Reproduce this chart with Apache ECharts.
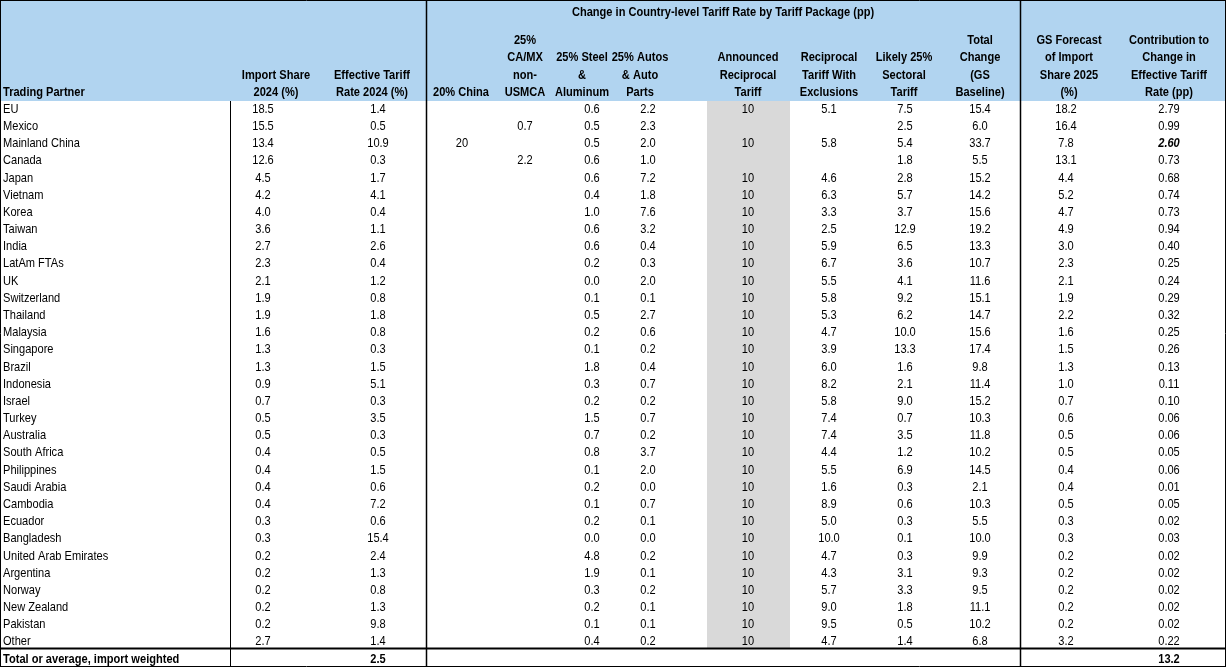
<!DOCTYPE html>
<html><head><meta charset="utf-8">
<script src="https://cdn.jsdelivr.net/npm/echarts@6/dist/echarts.min.js"></script>
<style>html,body{margin:0;padding:0;background:#fff}#c{width:1226px;height:667px}</style>
</head><body><div id="c"></div>
<script>
const partners = ["EU","Mexico","Mainland China","Canada","Japan","Vietnam","Korea","Taiwan","India","LatAm FTAs","UK","Switzerland","Thailand","Malaysia","Singapore","Brazil","Indonesia","Israel","Turkey","Australia","South Africa","Philippines","Saudi Arabia","Cambodia","Ecuador","Bangladesh","United Arab Emirates","Argentina","Norway","New Zealand","Pakistan","Other","Total or average, import weighted"];
const importShare = ["18.5","15.5","13.4","12.6","4.5","4.2","4.0","3.6","2.7","2.3","2.1","1.9","1.9","1.6","1.3","1.3","0.9","0.7","0.5","0.5","0.4","0.4","0.4","0.4","0.3","0.3","0.2","0.2","0.2","0.2","0.2","2.7",null];
const effTariff = ["1.4","0.5","10.9","0.3","1.7","4.1","0.4","1.1","2.6","0.4","1.2","0.8","1.8","0.8","0.3","1.5","5.1","0.3","3.5","0.3","0.5","1.5","0.6","7.2","0.6","15.4","2.4","1.3","0.8","1.3","9.8","1.4","2.5"];
const china20 = [null,null,"20"];
const camx = [null,"0.7",null,"2.2"];
const steel = ["0.6","0.5","0.5","0.6","0.6","0.4","1.0","0.6","0.6","0.2","0.0","0.1","0.5","0.2","0.1","1.8","0.3","0.2","1.5","0.7","0.8","0.1","0.2","0.1","0.2","0.0","4.8","1.9","0.3","0.2","0.1","0.4"];
const autos = ["2.2","2.3","2.0","1.0","7.2","1.8","7.6","3.2","0.4","0.3","2.0","0.1","2.7","0.6","0.2","0.4","0.7","0.2","0.7","0.2","3.7","2.0","0.0","0.7","0.1","0.0","0.2","0.1","0.2","0.1","0.1","0.2"];
const announced = ["10",null,"10",null,"10","10","10","10","10","10","10","10","10","10","10","10","10","10","10","10","10","10","10","10","10","10","10","10","10","10","10","10"];
const reciprocal = ["5.1",null,"5.8",null,"4.6","6.3","3.3","2.5","5.9","6.7","5.5","5.8","5.3","4.7","3.9","6.0","8.2","5.8","7.4","7.4","4.4","5.5","1.6","8.9","5.0","10.0","4.7","4.3","5.7","9.0","9.5","4.7"];
const sectoral = ["7.5","2.5","5.4","1.8","2.8","5.7","3.7","12.9","6.5","3.6","4.1","9.2","6.2","10.0","13.3","1.6","2.1","9.0","0.7","3.5","1.2","6.9","0.3","0.6","0.3","0.1","0.3","3.1","3.3","1.8","0.5","1.4"];
const totalChange = ["15.4","6.0","33.7","5.5","15.2","14.2","15.6","19.2","13.3","10.7","11.6","15.1","14.7","15.6","17.4","9.8","11.4","15.2","10.3","11.8","10.2","14.5","2.1","10.3","5.5","10.0","9.9","9.3","9.5","11.1","10.2","6.8"];
const gsForecast = ["18.2","16.4","7.8","13.1","4.4","5.2","4.7","4.9","3.0","2.3","2.1","1.9","2.2","1.6","1.5","1.3","1.0","0.7","0.6","0.5","0.5","0.4","0.4","0.5","0.3","0.3","0.2","0.2","0.2","0.2","0.2","3.2"];
const contribution = ["2.79","0.99","2.60","0.73","0.68","0.74","0.73","0.94","0.40","0.25","0.24","0.29","0.32","0.25","0.26","0.13","0.11","0.10","0.06","0.06","0.05","0.06","0.01","0.05","0.02","0.03","0.02","0.02","0.02","0.02","0.02","0.22","13.2"];
const headers = ["Trading Partner","Import Share\n2024 (%)","Effective Tariff\nRate 2024 (%)","20% China","25%\nCA/MX\nnon-\nUSMCA","25% Steel\n&\nAluminum","25% Autos\n& Auto\nParts","Announced\nReciprocal\nTariff","Reciprocal\nTariff With\nExclusions","Likely 25%\nSectoral\nTariff","Total\nChange\n(GS\nBaseline)","GS Forecast\nof Import\nShare 2025\n(%)","Contribution to\nChange in\nEffective Tariff\nRate (pp)"];
const groupTitle = "Change in Country-level Tariff Rate by Tariff Package (pp)";

const columns = [partners,importShare,effTariff,china20,camx,steel,autos,announced,reciprocal,sectoral,totalChange,gsForecast,contribution];
const valCenters = [3,263,378,462,525,592,648,748,829,905,980,1066,1169];
const headCenters = [3,276,372,461,525,582,640,748,829,904,980,1069,1169];
const F = '"Liberation Sans",Arial,sans-serif';
const SX = 0.82;
const nRows = partners.length, totalRow = nRows-1;

const data = [];
columns.forEach((col,j)=>col.forEach((t,i)=>{ if(t!=null) data.push({value:[valCenters[j],i],txt:t,col:j}); }));

const chart = echarts.init(document.getElementById('c'));
const g = [];
g.push({type:'rect',shape:{x:0,y:0,width:1226,height:101},style:{fill:'#B1D4F0'},z:0});
g.push({type:'rect',shape:{x:707,y:101,width:83,height:547},style:{fill:'#D9D9D9'},z:0});
headers.forEach((h,j)=>g.push({type:'text',x:headCenters[j],y:101,scaleX:SX,z:5,style:{text:h,font:'bold 13.5px '+F,fill:'#000',align:j===0?'left':'center',verticalAlign:'bottom',lineHeight:17.3}}));
g.push({type:'text',x:723,y:12,scaleX:SX,z:5,style:{text:groupTitle,font:'bold 13.5px '+F,fill:'#000',align:'center',verticalAlign:'middle'}});
const L=(x1,y1,x2,y2,w)=>g.push({type:'line',shape:{x1,y1,x2,y2},style:{stroke:'#000',lineWidth:w},z:10});
L(426.5,0,426.5,667,1.5); L(1020.5,0,1020.5,667,1.5); L(230.5,101,230.5,667,1);
L(0,648.5,1226,648.5,2); L(0.5,0,0.5,667,1); L(1225.5,0,1225.5,667,1); L(0,0.5,1226,0.5,1); L(0,666.5,1226,666.5,1);

chart.setOption({
  animation:false,
  grid:{left:0,right:0,top:100,bottom:0},
  xAxis:{type:'value',min:0,max:1226,show:false},
  yAxis:{type:'category',data:partners,inverse:true,show:false},
  graphic:g,
  series:[{type:'custom',data:data,z:6,renderItem:(params,api)=>{
    const d=data[params.dataIndex];
    const p=api.coord([d.value[0],d.value[1]]);
    const bold = d.value[1]===totalRow;
    const italic = d.col===12 && d.value[1]===2;
    return {type:'text',x:p[0],y:p[1]+0.5,scaleX:SX,style:{text:d.txt,font:(italic?'italic bold ':bold?'bold ':'')+'13.5px '+F,fill:'#000',align:d.col===0?'left':'center',verticalAlign:'middle'}};
  }}]
});
</script></body></html>
